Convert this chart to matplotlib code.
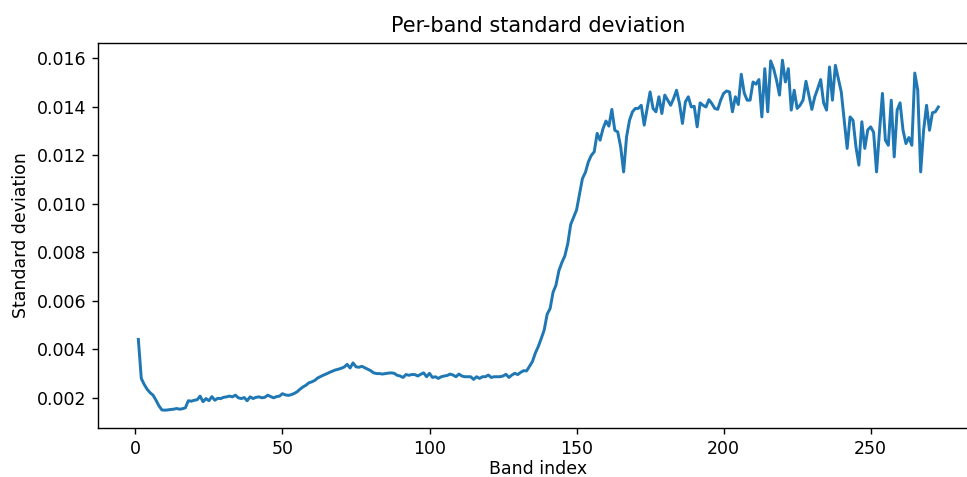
import matplotlib
matplotlib.use("Agg")
import matplotlib.pyplot as plt

# band indices 1..273
bands = list(range(1, 274))

# per-band standard deviation (10 values per line)
std_dev = [
    0.00441, 0.00280, 0.00255, 0.00235, 0.00221, 0.00211, 0.00190, 0.00167, 0.00150, 0.00149,
    0.00150, 0.00152, 0.00153, 0.00156, 0.00153, 0.00155, 0.00159, 0.00188, 0.00186, 0.00190,
    0.00192, 0.00207, 0.00184, 0.00197, 0.00188, 0.00205, 0.00190, 0.00198, 0.00197, 0.00202,
    0.00204, 0.00207, 0.00204, 0.00211, 0.00200, 0.00197, 0.00201, 0.00188, 0.00204, 0.00197,
    0.00202, 0.00204, 0.00200, 0.00202, 0.00211, 0.00205, 0.00200, 0.00205, 0.00207, 0.00217,
    0.00212, 0.00210, 0.00213, 0.00218, 0.00225, 0.00236, 0.00245, 0.00252, 0.00262, 0.00266,
    0.00272, 0.00282, 0.00288, 0.00294, 0.00299, 0.00305, 0.00310, 0.00315, 0.00318, 0.00322,
    0.00327, 0.00338, 0.00323, 0.00344, 0.00328, 0.00326, 0.00330, 0.00324, 0.00318, 0.00312,
    0.00303, 0.00300, 0.00300, 0.00298, 0.00300, 0.00302, 0.00303, 0.00301, 0.00293, 0.00290,
    0.00284, 0.00296, 0.00293, 0.00296, 0.00296, 0.00290, 0.00297, 0.00303, 0.00287, 0.00301,
    0.00284, 0.00287, 0.00280, 0.00287, 0.00290, 0.00292, 0.00298, 0.00294, 0.00287, 0.00298,
    0.00290, 0.00287, 0.00287, 0.00287, 0.00276, 0.00287, 0.00280, 0.00287, 0.00287, 0.00294,
    0.00284, 0.00287, 0.00287, 0.00287, 0.00290, 0.00297, 0.00284, 0.00294, 0.00301, 0.00296,
    0.00305, 0.00312, 0.00311, 0.00330, 0.00350, 0.00385, 0.00412, 0.00445, 0.00480, 0.00545,
    0.00568, 0.00635, 0.00665, 0.00725, 0.00758, 0.00785, 0.00835, 0.00915, 0.00945, 0.00975,
    0.01040, 0.01105, 0.01130, 0.01173, 0.01200, 0.01215, 0.01291, 0.01263, 0.01311, 0.01342,
    0.01321, 0.01390, 0.01304, 0.01297, 0.01235, 0.01132, 0.01277, 0.01345, 0.01380, 0.01394,
    0.01394, 0.01407, 0.01325, 0.01394, 0.01462, 0.01394, 0.01380, 0.01442, 0.01373, 0.01449,
    0.01428, 0.01407, 0.01435, 0.01469, 0.01414, 0.01332, 0.01421, 0.01442, 0.01400, 0.01403,
    0.01318, 0.01417, 0.01407, 0.01400, 0.01430, 0.01414, 0.01394, 0.01390, 0.01428, 0.01456,
    0.01466, 0.01462, 0.01380, 0.01442, 0.01410, 0.01535, 0.01458, 0.01428, 0.01428, 0.01503,
    0.01494, 0.01513, 0.01359, 0.01558, 0.01380, 0.01590, 0.01558, 0.01510, 0.01449, 0.01593,
    0.01503, 0.01558, 0.01387, 0.01469, 0.01394, 0.01407, 0.01428, 0.01506, 0.01449, 0.01390,
    0.01442, 0.01476, 0.01513, 0.01417, 0.01387, 0.01565, 0.01428, 0.01572, 0.01517, 0.01462,
    0.01345, 0.01229, 0.01359, 0.01345, 0.01235, 0.01160, 0.01339, 0.01229, 0.01305, 0.01318,
    0.01295, 0.01132, 0.01300, 0.01456, 0.01263, 0.01242, 0.01428, 0.01194, 0.01387, 0.01417,
    0.01304, 0.01249, 0.01274, 0.01242, 0.01540, 0.01470, 0.01132, 0.01304, 0.01407, 0.01304,
    0.01376, 0.01380, 0.01400,
]

DPI = 125
fig = plt.figure(figsize=(967 / DPI, 477 / DPI), dpi=DPI)
# axes run past the right edge of the image, as in the reference crop
ax = fig.add_axes([0.1017, 0.1034, 0.910, 0.8071])

ax.plot(bands, std_dev, linewidth=1.7)

ax.set_title('Per-band standard deviation')
ax.set_xlabel('Band index', labelpad=1.5)
ax.set_ylabel('Standard deviation')

fig.savefig('out.png', dpi=DPI)
